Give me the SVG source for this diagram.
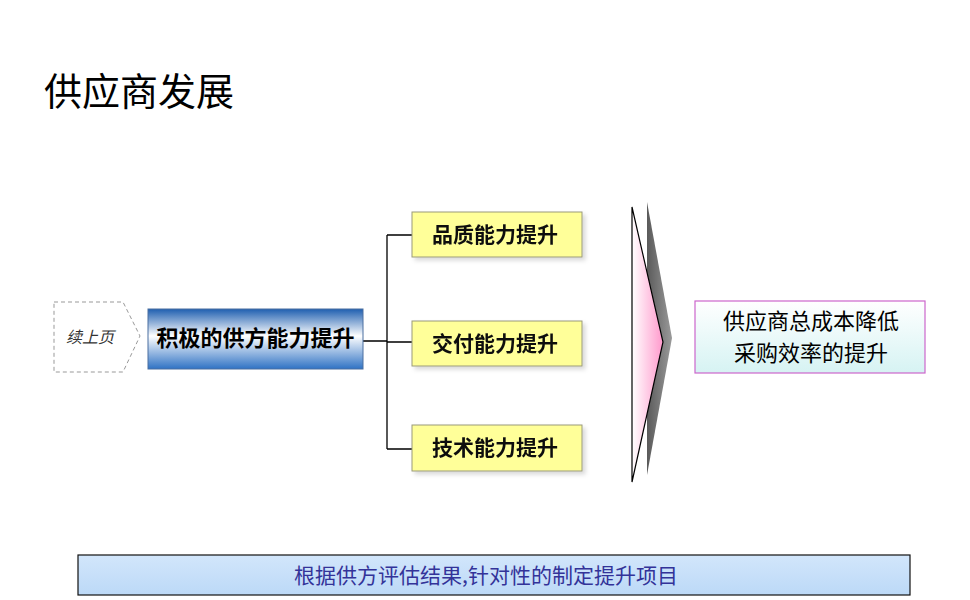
<svg xmlns="http://www.w3.org/2000/svg" width="970" height="600" viewBox="0 0 970 600">
<style>
.cjk{font-family:"Noto Sans CJK SC","Noto Sans CJK TC",sans-serif}
.yb{fill:#FFFF99;stroke:#9a9a7a;stroke-width:1}
.yt{font-size:21px;font-weight:bold;fill:#111;text-anchor:middle}
.conn{fill:none;stroke:#000;stroke-width:1.3}
</style>
<defs>
<linearGradient id="blue" x1="0" y1="0" x2="0" y2="1">
<stop offset="0" stop-color="#1f5fb0"/>
<stop offset="0.45" stop-color="#ffffff"/>
<stop offset="1" stop-color="#2f72c4"/>
</linearGradient>
<linearGradient id="pink" x1="0" y1="0" x2="1" y2="0">
<stop offset="0" stop-color="#ffffff"/>
<stop offset="1" stop-color="#ff99cc"/>
</linearGradient>
<linearGradient id="gray" x1="0" y1="0" x2="1" y2="0">
<stop offset="0" stop-color="#5a5a5a"/>
<stop offset="1" stop-color="#9a9a9a"/>
</linearGradient>
<linearGradient id="cyan" x1="0" y1="0" x2="0" y2="1">
<stop offset="0" stop-color="#ffffff"/>
<stop offset="1" stop-color="#d6f3f3"/>
</linearGradient>
<linearGradient id="lb" x1="0" y1="0" x2="0" y2="1">
<stop offset="0" stop-color="#d2e6fb"/>
<stop offset="1" stop-color="#bcd9f7"/>
</linearGradient>
<filter id="sh" x="-10%" y="-10%" width="130%" height="140%">
<feDropShadow dx="3" dy="3" stdDeviation="2" flood-color="#000" flood-opacity="0.15"/>
</filter>
</defs>

<text class="cjk" x="44" y="105" font-size="38" fill="#000">供应商发展</text>

<g id="connectors">
<path class="conn" d="M363,341 H387 M387,235 V449 M387,235 H412 M387,342 H412 M387,449 H412"/>
</g>

<g id="prev">
<path d="M54,302 H123 L140,336 L123,372 H54 Z" fill="#fff" stroke="#999" stroke-width="1" stroke-dasharray="4,3"/>
<text class="cjk" x="90" y="343" font-size="16" fill="#333" font-style="italic" text-anchor="middle">续上页</text>
</g>

<g id="main">
<rect x="148" y="309" width="215" height="60" fill="url(#blue)" stroke="#4a6fa0" stroke-width="1"/>
<text class="cjk" x="255.5" y="346" font-size="22" font-weight="bold" fill="#000" text-anchor="middle">积极的供方能力提升</text>
</g>

<g id="quality" filter="url(#sh)">
<rect class="yb" x="412" y="212" width="170" height="45"/>
<text class="cjk yt" x="495" y="242">品质能力提升</text>
</g>
<g id="delivery" filter="url(#sh)">
<rect class="yb" x="412" y="321" width="170" height="45"/>
<text class="cjk yt" x="495" y="351">交付能力提升</text>
</g>
<g id="tech" filter="url(#sh)">
<rect class="yb" x="412" y="425" width="170" height="46"/>
<text class="cjk yt" x="495" y="455">技术能力提升</text>
</g>

<g id="arrow">
<polygon points="647,202 672,338 647,475" fill="url(#gray)"/>
<polygon points="632,207 663,342 632,482" fill="url(#pink)" stroke="#000" stroke-width="1.2"/>
</g>

<g id="result">
<rect x="695" y="301" width="230" height="72" fill="url(#cyan)" stroke="#cc66cc" stroke-width="1.2"/>
<text class="cjk" x="811" y="329" font-size="22" fill="#000" text-anchor="middle">供应商总成本降低</text>
<text class="cjk" x="811" y="361" font-size="22" fill="#000" text-anchor="middle">采购效率的提升</text>
</g>

<g id="note">
<rect x="78" y="555" width="832" height="40" fill="url(#lb)" stroke="#111" stroke-width="1.2"/>
<text class="cjk" x="486" y="583" font-size="21" fill="#333399" text-anchor="middle">根据供方评估结果,针对性的制定提升项目</text>
</g>
</svg>
